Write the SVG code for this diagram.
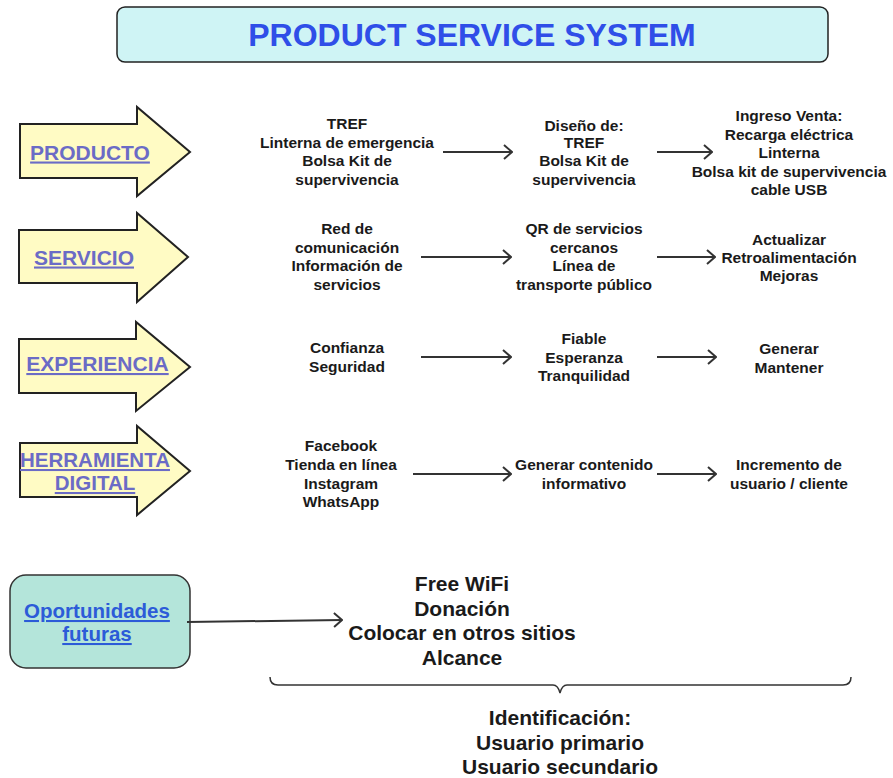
<svg xmlns="http://www.w3.org/2000/svg" width="893" height="778" viewBox="0 0 893 778">
<style>
  text { font-family: "Liberation Sans", Arial, sans-serif; font-weight: bold; text-anchor: middle; }
  .t { font-size: 15.5px; fill: #1a1a1a; }
  .big { font-size: 21px; fill: #1a1a1a; }
  .lbl { font-size: 21px; fill: #6b6bc6; text-decoration: underline; }
  .opp { font-size: 20.5px; fill: #2c5bd8; text-decoration: underline; }
  .blk { fill: #fffbc4; stroke: #222; stroke-width: 2; stroke-linejoin: miter; }
  .con { fill: none; stroke: #333; stroke-width: 2; }
</style>
<defs>
  <marker id="ah" viewBox="0 0 10 16" refX="9" refY="8" markerWidth="10" markerHeight="16" markerUnits="userSpaceOnUse" orient="auto">
    <path d="M1,1 L9,8 L1,15" fill="none" stroke="#333" stroke-width="2"/>
  </marker>
</defs>
<rect width="893" height="778" fill="#ffffff"/>

<g id="title">
  <rect x="117" y="7" width="711" height="55" rx="8" fill="#cff4f5" stroke="#222" stroke-width="1.5"/>
  <text x="472" y="46" style="font-size:32px; fill:#2f4ee8;">PRODUCT SERVICE SYSTEM</text>
</g>

<g id="producto">
  <path class="blk" d="M20,124 L137,124 L137,107 L190,152 L137,196 L137,178 L20,178 Z"/>
  <text class="lbl" x="90" y="159.5">PRODUCTO</text>
</g>
<g id="servicio">
  <path class="blk" d="M19,230 L137,230 L137,213 L188,257 L137,302 L137,283 L19,283 Z"/>
  <text class="lbl" x="84" y="264.5">SERVICIO</text>
</g>
<g id="experiencia">
  <path class="blk" d="M19,339 L136,339 L136,322 L190,367 L136,411 L136,393 L19,393 Z"/>
  <text class="lbl" x="97.5" y="371">EXPERIENCIA</text>
</g>
<g id="herramienta">
  <path class="blk" d="M20,443 L137,443 L137,426 L190,471 L137,515 L137,497 L20,497 Z"/>
  <text class="lbl" x="95" y="467" style="font-size:20.5px;">HERRAMIENTA</text>
  <text class="lbl" x="95" y="490" style="font-size:20.5px;">DIGITAL</text>
</g>

<g id="r1c1">
  <text class="t" x="347" y="129">TREF</text>
  <text class="t" x="347" y="147.5">Linterna de emergencia</text>
  <text class="t" x="347" y="166">Bolsa Kit de</text>
  <text class="t" x="347" y="184.5">supervivencia</text>
</g>
<g id="r1c2">
  <text class="t" x="584" y="131">Diseño de:</text>
  <text class="t" x="584" y="148">TREF</text>
  <text class="t" x="584" y="166">Bolsa Kit de</text>
  <text class="t" x="584" y="184.5">supervivencia</text>
</g>
<g id="r1c3">
  <text class="t" x="789" y="121">Ingreso Venta:</text>
  <text class="t" x="789" y="139.5">Recarga eléctrica</text>
  <text class="t" x="789" y="158">Linterna</text>
  <text class="t" x="789" y="176.5">Bolsa kit de supervivencia</text>
  <text class="t" x="789" y="195">cable USB</text>
</g>

<g id="r2c1">
  <text class="t" x="347" y="234">Red de</text>
  <text class="t" x="347" y="252.5">comunicación</text>
  <text class="t" x="347" y="271">Información de</text>
  <text class="t" x="347" y="289.5">servicios</text>
</g>
<g id="r2c2">
  <text class="t" x="584" y="234">QR de servicios</text>
  <text class="t" x="584" y="252.5">cercanos</text>
  <text class="t" x="584" y="271">Línea de</text>
  <text class="t" x="584" y="289.5">transporte público</text>
</g>
<g id="r2c3">
  <text class="t" x="789" y="245">Actualizar</text>
  <text class="t" x="789" y="263">Retroalimentación</text>
  <text class="t" x="789" y="281">Mejoras</text>
</g>

<g id="r3c1">
  <text class="t" x="347" y="353">Confianza</text>
  <text class="t" x="347" y="371.5">Seguridad</text>
</g>
<g id="r3c2">
  <text class="t" x="584" y="344">Fiable</text>
  <text class="t" x="584" y="362.5">Esperanza</text>
  <text class="t" x="584" y="381">Tranquilidad</text>
</g>
<g id="r3c3">
  <text class="t" x="789" y="354">Generar</text>
  <text class="t" x="789" y="372.5">Mantener</text>
</g>

<g id="r4c1">
  <text class="t" x="341" y="451">Facebook</text>
  <text class="t" x="341" y="470">Tienda en línea</text>
  <text class="t" x="341" y="488.5">Instagram</text>
  <text class="t" x="341" y="507">WhatsApp</text>
</g>
<g id="r4c2">
  <text class="t" x="584" y="470">Generar contenido</text>
  <text class="t" x="584" y="489">informativo</text>
</g>
<g id="r4c3">
  <text class="t" x="789" y="470">Incremento de</text>
  <text class="t" x="789" y="489">usuario / cliente</text>
</g>

<g id="oportunidades">
  <rect x="10" y="575" width="180" height="93" rx="16" fill="#b4e5da" stroke="#333" stroke-width="1.5"/>
  <text class="opp" x="97" y="618">Oportunidades </text>
  <text class="opp" x="97" y="641">futuras</text>
</g>

<g id="opciones">
  <text class="big" x="462" y="591">Free WiFi</text>
  <text class="big" x="462" y="615.5">Donación</text>
  <text class="big" x="462" y="640">Colocar en otros sitios</text>
  <text class="big" x="462" y="664.5">Alcance</text>
</g>

<g id="identificacion">
  <text class="big" x="560" y="725">Identificación:</text>
  <text class="big" x="560" y="750">Usuario primario</text>
  <text class="big" x="560" y="774">Usuario secundario</text>
</g>

<g id="connectors">
  <line class="con" x1="443" y1="152" x2="512" y2="152" marker-end="url(#ah)"/>
  <line class="con" x1="657" y1="152" x2="712" y2="152" marker-end="url(#ah)"/>
  <line class="con" x1="421" y1="257" x2="511" y2="257" marker-end="url(#ah)"/>
  <line class="con" x1="657" y1="257" x2="715" y2="257" marker-end="url(#ah)"/>
  <line class="con" x1="421" y1="357" x2="511" y2="357" marker-end="url(#ah)"/>
  <line class="con" x1="657" y1="357" x2="716" y2="357" marker-end="url(#ah)"/>
  <line class="con" x1="413" y1="474" x2="511" y2="474" marker-end="url(#ah)"/>
  <line class="con" x1="657" y1="474" x2="716" y2="474" marker-end="url(#ah)"/>
  <line class="con" x1="187" y1="622" x2="342" y2="620" marker-end="url(#ah)"/>
  <path d="M270,677 Q270,685 278,685 L553,685 Q558,685 560,693 Q562,685 567,685 L843,685 Q851,685 851,677" fill="none" stroke="#333" stroke-width="1.5"/>
</g>
</svg>
